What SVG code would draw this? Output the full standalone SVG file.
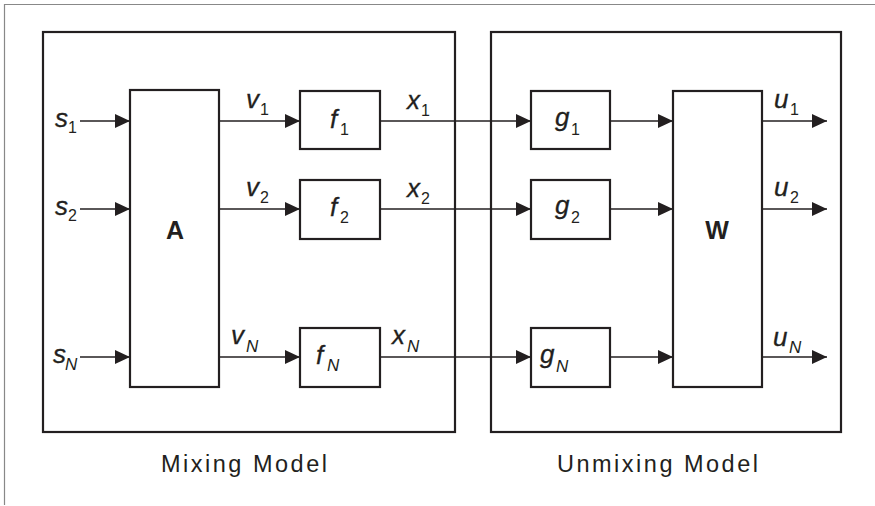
<svg xmlns="http://www.w3.org/2000/svg" width="875" height="506" viewBox="0 0 875 506">
<style>
.frame{fill:none;stroke:#888;stroke-width:1.2}
.box{fill:#fff;stroke:#231f20;stroke-width:2.2}
.cont{fill:none;stroke:#231f20;stroke-width:2.2}
.line{fill:none;stroke:#231f20;stroke-width:1.4}
.var{font-family:"Liberation Sans",Arial,sans-serif;font-style:italic;font-size:26px;fill:#231f20;stroke:#231f20;stroke-width:0.3}
.sub{font-family:"Liberation Sans",Arial,sans-serif;font-size:16px;fill:#231f20}
.subn{font-family:"Liberation Sans",Arial,sans-serif;font-style:italic;font-size:17px;fill:#231f20}
.big{font-family:"Liberation Sans",Arial,sans-serif;font-weight:bold;font-size:25px;fill:#231f20;text-anchor:middle}
.cap{font-family:"Liberation Sans",Arial,sans-serif;font-size:23.5px;letter-spacing:2.5px;fill:#231f20}
</style>
<defs>
<marker id="ah" markerUnits="userSpaceOnUse" markerWidth="16" markerHeight="16" viewBox="0 0 16 16" refX="15" refY="8" orient="auto">
<path d="M0,1 L15,8 L0,15 Z" fill="#231f20"/>
</marker>
</defs>
<rect width="875" height="506" fill="#fff"/>
<path class="frame" d="M4.5,505 V4.5 H875"/>
<g id="mixing-model">
<rect class="cont" x="43" y="32" width="412" height="400"/>
<text class="cap" x="161" y="472">Mixing Model</text>
</g>
<g id="unmixing-model">
<rect class="cont" x="491" y="32" width="350" height="400"/>
<text class="cap" x="557" y="472">Unmixing Model</text>
</g>
<g id="connectors">
<line class="line" x1="80" y1="121" x2="130" y2="121" marker-end="url(#ah)"/>
<line class="line" x1="80" y1="209" x2="130" y2="209" marker-end="url(#ah)"/>
<line class="line" x1="80" y1="357" x2="130" y2="357" marker-end="url(#ah)"/>
<line class="line" x1="219" y1="121" x2="300" y2="121" marker-end="url(#ah)"/>
<line class="line" x1="219" y1="209" x2="300" y2="209" marker-end="url(#ah)"/>
<line class="line" x1="219" y1="357" x2="300" y2="357" marker-end="url(#ah)"/>
<line class="line" x1="380" y1="121" x2="531" y2="121" marker-end="url(#ah)"/>
<line class="line" x1="380" y1="209" x2="531" y2="209" marker-end="url(#ah)"/>
<line class="line" x1="380" y1="357" x2="531" y2="357" marker-end="url(#ah)"/>
<line class="line" x1="610" y1="121" x2="673" y2="121" marker-end="url(#ah)"/>
<line class="line" x1="610" y1="209" x2="673" y2="209" marker-end="url(#ah)"/>
<line class="line" x1="610" y1="357" x2="673" y2="357" marker-end="url(#ah)"/>
<line class="line" x1="762" y1="121" x2="827" y2="121" marker-end="url(#ah)"/>
<line class="line" x1="762" y1="209" x2="827" y2="209" marker-end="url(#ah)"/>
<line class="line" x1="762" y1="357" x2="827" y2="357" marker-end="url(#ah)"/>
</g>
<g id="labels">
<text class="var" x="55" y="127">s</text><text class="sub" x="68" y="133">1</text>
<text class="var" x="55" y="215">s</text><text class="sub" x="68" y="221">2</text>
<text class="var" x="53" y="363">s</text><text class="subn" x="65" y="370">N</text>
<text class="var" x="246" y="108">v</text><text class="sub" x="260" y="115">1</text>
<text class="var" x="246" y="196">v</text><text class="sub" x="260" y="203">2</text>
<text class="var" x="231" y="344">v</text><text class="subn" x="246" y="352">N</text>
<text class="var" x="407" y="109">x</text><text class="sub" x="421" y="116">1</text>
<text class="var" x="407" y="197">x</text><text class="sub" x="421" y="204">2</text>
<text class="var" x="392" y="344">x</text><text class="subn" x="407" y="352">N</text>
<text class="var" x="774" y="108">u</text><text class="sub" x="790" y="115">1</text>
<text class="var" x="774" y="196">u</text><text class="sub" x="790" y="203">2</text>
<text class="var" x="773" y="346">u</text><text class="subn" x="789" y="353">N</text>
</g>
<g id="node-A">
<rect class="box" x="130" y="90" width="89" height="297"/>
<text class="big" x="175" y="239">A</text>
</g>
<g id="node-f1">
<rect class="box" x="300" y="91" width="80" height="58"/>
<text class="var" x="330" y="128">f</text><text class="sub" x="340" y="135">1</text>
</g>
<g id="node-f2">
<rect class="box" x="300" y="180" width="80" height="59"/>
<text class="var" x="330" y="216">f</text><text class="sub" x="340" y="223">2</text>
</g>
<g id="node-fN">
<rect class="box" x="300" y="328" width="80" height="59"/>
<text class="var" x="316" y="364">f</text><text class="subn" x="327" y="371">N</text>
</g>
<g id="node-g1">
<rect class="box" x="531" y="91" width="79" height="58"/>
<text class="var" x="555" y="126">g</text><text class="sub" x="571" y="135">1</text>
</g>
<g id="node-g2">
<rect class="box" x="531" y="180" width="79" height="59"/>
<text class="var" x="555" y="214">g</text><text class="sub" x="571" y="223">2</text>
</g>
<g id="node-gN">
<rect class="box" x="531" y="328" width="79" height="59"/>
<text class="var" x="540" y="363">g</text><text class="subn" x="556" y="372">N</text>
</g>
<g id="node-W">
<rect class="box" x="673" y="91" width="89" height="296"/>
<text class="big" x="717" y="239">W</text>
</g>
</svg>
